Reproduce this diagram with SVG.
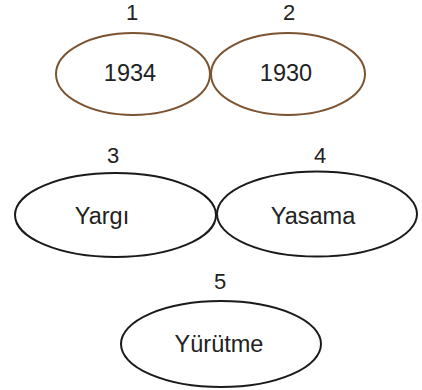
<svg xmlns="http://www.w3.org/2000/svg" width="422" height="390" viewBox="0 0 422 390">
<style>
.e{fill:none;stroke-width:2}
.b{stroke:#7b5331}
.k{stroke:#1a1a1a}
text{font-family:"Liberation Sans",Arial,sans-serif;fill:#222;text-anchor:middle}
.n{font-size:22px}
.t{font-size:23.5px}
</style>
<rect width="422" height="390" fill="#fff"/>
<g id="node1"><ellipse class="e b" cx="133" cy="74" rx="77" ry="41"/><text class="n" x="132" y="20">1</text><text class="t" x="130" y="81">1934</text></g>
<g id="node2"><ellipse class="e b" cx="288" cy="74" rx="77" ry="41"/><text class="n" x="289" y="20">2</text><text class="t" x="286" y="81">1930</text></g>
<g id="node3"><ellipse class="e k" cx="115.5" cy="215" rx="100.5" ry="42"/><text class="n" x="113" y="163">3</text><text class="t" x="102" y="224">Yargı</text></g>
<g id="node4"><ellipse class="e k" cx="317" cy="214" rx="100" ry="42.5"/><text class="n" x="320" y="163">4</text><text class="t" x="313" y="224">Yasama</text></g>
<g id="node5"><ellipse class="e k" cx="221" cy="344" rx="100" ry="43"/><text class="n" x="220" y="289">5</text><text class="t" x="219" y="352">Yürütme</text></g>
<g id="connectors"></g>
</svg>
